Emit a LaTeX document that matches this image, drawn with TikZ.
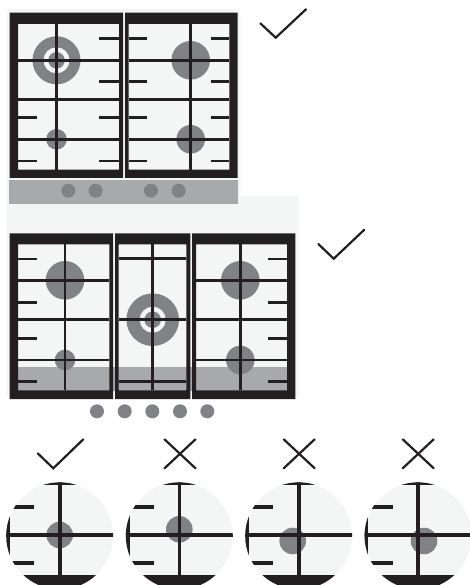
\documentclass[tikz,border=0pt]{standalone}
\usepackage{xcolor}
\definecolor{frameblack}{HTML}{231F20}
\definecolor{panellight}{HTML}{F4F6F6}
\definecolor{stripgray}{HTML}{A7A9AC}
\definecolor{burnergray}{HTML}{808285}
\tikzset{
    panel/.style={
        fill=panellight,
        rounded corners=2pt
    },
    strip/.style={fill=stripgray},
    hobframe/.style={fill=frameblack, even odd rule},
    grate/.style={draw=frameblack, line width=2.7pt},
    biggrate/.style={draw=frameblack, line width=3.6pt},
    knob/.style={fill=burnergray},
    burner/.style={fill=burnergray},
    ringgap/.style={fill=panellight},
    verdict/.style={draw=frameblack, line width=2.2pt, line cap=round, line join=miter}
}
\newcommand{\hob}[8]{\fill[hobframe] (#1,#2) rectangle (#3,#4) (#5,#6) rectangle (#7,#8);}
\newcommand{\wok}[3]{
    \fill[burner] (#1,#2) circle (#3);
    \fill[ringgap] (#1,#2) circle (13);
    \fill[burner] (#1,#2) circle (8.3);
}
\newcommand{\knobdot}[2]{\fill[knob] (#1,#2) circle (7);}
\newcommand{\cross}[1]{
    \draw[verdict] (#1-15.5,439.3) -- (#1+15.5,468.3);
    \draw[verdict] (#1+15.5,439.3) -- (#1-15.5,468.3);
}
\newcommand{\closeup}[3]{
    \begin{scope}
        \clip (#1,535.8) circle (53.5);
        \fill[panellight] (#1,535.8) circle (53.5);
        \fill[burner] (#2,#3) circle (13.3);
        \fill[frameblack] (#1-60,478) rectangle (#1+60,485);
        \fill[frameblack] (#1-60,574.5) rectangle (#1+60,590);
        \fill[frameblack] (#1-60,478) rectangle (#1-49.7,590);
        \draw[biggrate] (#1,478) -- (#1,590);
        \draw[biggrate] (#1-60,535) -- (#1+60,535);
        \draw[biggrate] (#1-60,507) -- (#1-25.4,507);
        \draw[biggrate] (#1-60,563) -- (#1-25.4,563);
    \end{scope}
}

\begin{document}
\begin{tikzpicture}[x=1pt,y=-1pt]
    \useasboundingbox (0,0) rectangle (470,585);

    % upper hob
    \fill[panel] (6.7,9) rectangle (240.7,200);
    \fill[panel] (6.7,195.7) rectangle (299,397);
    \fill[strip] (9,180) rectangle (238,203.7);
    \wok{56.5}{60.3}{24}
    \fill[burner] (190.7,60.3) circle (19.3);
    \fill[burner] (56.5,139.3) circle (10.3);
    \fill[burner] (190.7,139.3) circle (14.3);
    \hob{9.7}{12.7}{123}{178}{18}{24}{119}{169.7}
    \hob{125}{12.7}{237.7}{178}{128.7}{24}{229.3}{169.7}
    \draw[grate] (56.5,24) -- (56.5,169.7);
    \draw[grate] (190.7,24) -- (190.7,169.7);
    \draw[grate] (18,60.3) -- (119,60.3) (18,99.3) -- (119,99.3) (18,139.3) -- (119,139.3);
    \draw[grate] (128.7,60.3) -- (229.3,60.3) (128.7,99.3) -- (229.3,99.3) (128.7,139.3) -- (229.3,139.3);
    \draw[grate] (99.3,38.3) -- (119,38.3) (99.3,81.7) -- (119,81.7) (99.3,117.7) -- (119,117.7) (99.3,161) -- (119,161);
    \draw[grate] (18,117.7) -- (36.7,117.7) (18,161) -- (36.7,161);
    \draw[grate] (128.7,38.3) -- (147,38.3) (128.7,81.7) -- (147,81.7) (128.7,117.7) -- (147,117.7) (128.7,161) -- (147,161);
    \draw[grate] (210.7,38.3) -- (229.3,38.3) (210.7,81.7) -- (229.3,81.7) (210.7,117.7) -- (229.3,117.7) (210.7,161) -- (229.3,161);
    \knobdot{68.3}{190.7}
    \knobdot{95.7}{190.7}
    \knobdot{151}{190.7}
    \knobdot{178.7}{190.7}
    \draw[verdict] (260.3,23.3) -- (275.7,37.7) -- (306,9.3);

    % lower hob
    \fill[strip] (9.7,367) rectangle (295.3,391);
    \fill[burner] (65,280.3) circle (19.3);
    \fill[burner] (65,360) circle (10.3);
    \wok{152.7}{319.7}{26.3}
    \fill[burner] (240.3,280.3) circle (19.3);
    \fill[burner] (240.3,360) circle (14.3);
    \hob{9.7}{233.3}{113}{399}{18}{244.3}{109.3}{390.3}
    \hob{115}{233.3}{190.3}{399}{118.7}{244.3}{186.3}{390.3}
    \hob{192}{233.3}{295.3}{399}{196}{244.3}{287}{390.3}
    \draw[grate] (65,244.3) -- (65,390.3);
    \draw[grate] (152.7,244.3) -- (152.7,390.3);
    \draw[grate] (240.3,244.3) -- (240.3,390.3);
    \draw[grate] (18,280.3) -- (109.3,280.3) (18,319.7) -- (109.3,319.7) (18,360) -- (109.3,360);
    \draw[grate] (196,280.3) -- (287,280.3) (196,319.7) -- (287,319.7) (196,360) -- (287,360);
    \draw[grate] (118.7,258.7) -- (186.3,258.7) (118.7,319.7) -- (186.3,319.7) (118.7,381.7) -- (186.3,381.7);
    \draw[grate] (18,259) -- (36.7,259) (18,302.3) -- (36.7,302.3) (18,338.3) -- (36.7,338.3) (18,381.7) -- (36.7,381.7);
    \draw[grate] (268.3,259) -- (287,259) (268.3,302.3) -- (287,302.3) (268.3,338.3) -- (287,338.3) (268.3,381.7) -- (287,381.7);
    \knobdot{97}{411.3}
    \knobdot{124.7}{411.3}
    \knobdot{152.3}{411.3}
    \knobdot{180}{411.3}
    \knobdot{207.3}{411.3}
    \draw[verdict] (318.3,244) -- (333.7,258.7) -- (364,230);

    % close-ups
    \draw[verdict] (37.7,453.3) -- (53.3,468.3) -- (83.3,439.3);
    \cross{180}
    \cross{299.2}
    \cross{418.2}
    \closeup{59.7}{59.7}{535}
    \closeup{179.3}{179.3}{529.3}
    \closeup{298.7}{292.7}{541}
    \closeup{418}{424}{541}
\end{tikzpicture}
\end{document}
